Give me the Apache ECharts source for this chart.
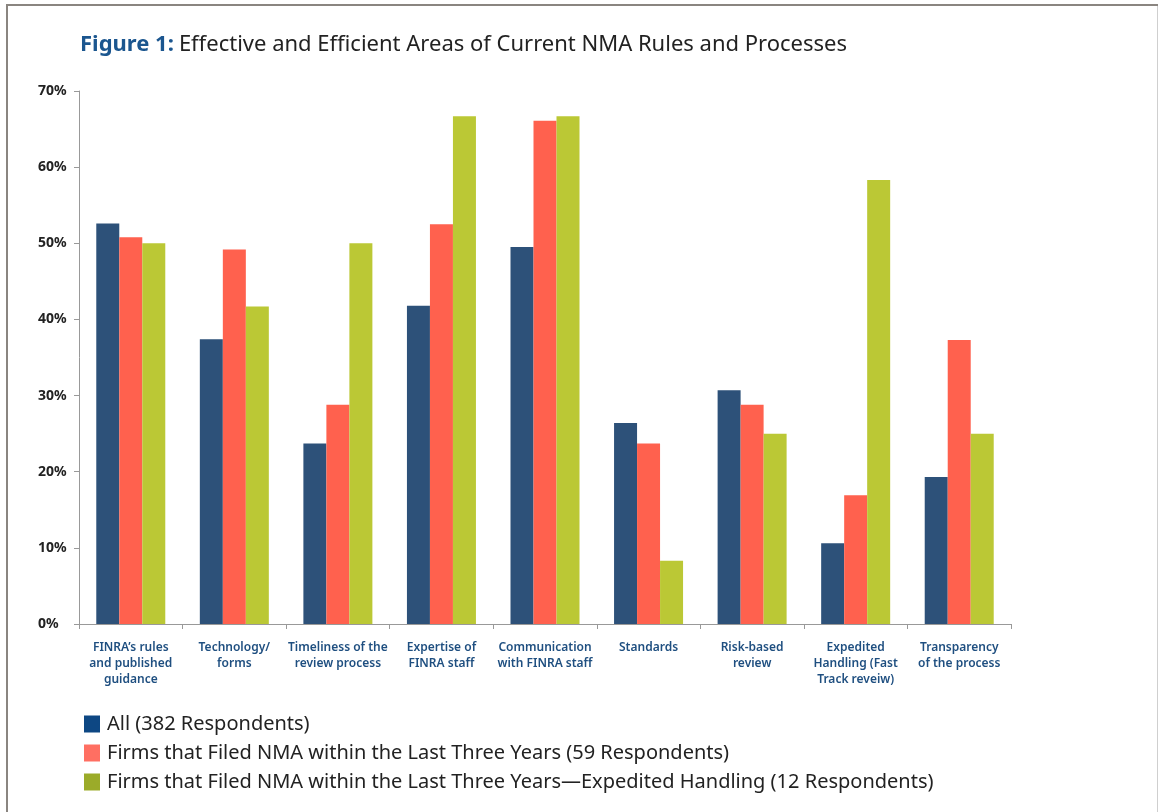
<!DOCTYPE html>
<html>
<head>
<meta charset="utf-8">
<script src="https://cdn.jsdelivr.net/npm/echarts@6/dist/echarts.min.js"></script>
<style>
html,body{margin:0;padding:0;background:#fff;}
#chart{width:1158px;height:812px;}
</style>
</head>
<body>
<div id="chart"></div>
<script>
const categories = [
  "FINRA’s rules\nand published\nguidance",
  "Technology/\nforms",
  "Timeliness of the\nreview process",
  "Expertise of\nFINRA staff",
  "Communication\nwith FINRA staff",
  "Standards",
  "Risk-based\nreview",
  "Expedited\nHandling (Fast\nTrack reveiw)",
  "Transparency\nof the process"
];
const seriesNames = [
  "All (382 Respondents)",
  "Firms that Filed NMA within the Last Three Years (59 Respondents)",
  "Firms that Filed NMA within the Last Three Years—Expedited Handling (12 Respondents)"
];
const allValues = [52.6, 37.4, 23.7, 41.8, 49.5, 26.4, 30.7, 10.6, 19.3];
const filedValues = [50.8, 49.2, 28.8, 52.5, 66.1, 23.7, 28.8, 16.9, 37.3];
const expeditedValues = [50.0, 41.7, 50.0, 66.7, 66.7, 8.3, 25.0, 58.3, 25.0];
const yTicks = [0, 10, 20, 30, 40, 50, 60, 70];

const barColors = ["#2d5179", "#ff614e", "#bbc835"];
const legendColors = ["#0d4783", "#ff6f62", "#9bab29"];

const chart = echarts.init(document.getElementById('chart'), null, {renderer: 'canvas'});
const option = {
  backgroundColor: '#fff',
  animation: false,
  title: {
    left: 75, top: 29,
    text: '{a|Figure 1:} {b|Effective and Efficient Areas of Current NMA Rules and Processes}',
    textStyle: {
      fontWeight: 'normal',
      rich: {
        a: {fontFamily: 'Noto Sans', fontSize: 22, fontWeight: 'bold', color: '#1b568f'},
        b: {fontFamily: 'Noto Sans', fontSize: 22, fontWeight: 'normal', color: '#222'}
      }
    }
  },
  legend: {
    orient: 'vertical',
    left: 79, top: 709,
    itemWidth: 16, itemHeight: 17,
    itemGap: 9,
    icon: 'rect',
    textStyle: {fontFamily: 'Noto Sans', fontSize: 20, color: '#222', padding: [0, 0, 0, 2]},
    data: seriesNames.map((n, i) => ({name: n, itemStyle: {color: legendColors[i]}}))
  },
  grid: {left: 79, right: 147, top: 91, bottom: 188, containLabel: false},
  xAxis: {
    type: 'category',
    data: categories,
    axisLine: {lineStyle: {color: '#999', width: 1}},
    axisTick: {show: true, length: 5, lineStyle: {color: '#999'}},
    axisLabel: {
      interval: 0, margin: 16,
      fontFamily: 'Noto Sans', fontSize: 12, fontWeight: 600,
      color: '#1f4f80', lineHeight: 16, align: 'center'
    }
  },
  yAxis: {
    type: 'value',
    min: yTicks[0], max: yTicks[yTicks.length - 1], interval: 10,
    axisLine: {show: true, lineStyle: {color: '#999', width: 1}},
    axisTick: {show: true, length: 5, lineStyle: {color: '#999'}},
    splitLine: {show: false},
    axisLabel: {
      formatter: v => v + '%',
      align: 'left', margin: 41,
      fontFamily: 'Noto Sans', fontSize: 14, fontWeight: 'bold', color: '#222',
      padding: [0, 0, 5, 0]
    }
  },
  series: [allValues, filedValues, expeditedValues].map((vals, i) => ({
    name: seriesNames[i],
    type: 'bar',
    data: vals,
    barWidth: 23,
    barGap: '0%',
    itemStyle: {color: barColors[i]}
  })),
  graphic: [
    {type: 'line', shape: {x1: 6, y1: 5, x2: 1158, y2: 5}, style: {stroke: '#8a8580', lineWidth: 2}, silent: true},
    {type: 'line', shape: {x1: 7, y1: 4, x2: 7, y2: 812}, style: {stroke: '#8a8580', lineWidth: 2}, silent: true},
    {type: 'line', shape: {x1: 1157.5, y1: 6, x2: 1157.5, y2: 812}, style: {stroke: '#cfcfcf', lineWidth: 1}, silent: true}
  ]
};
chart.setOption(option);
</script>
</body>
</html>
